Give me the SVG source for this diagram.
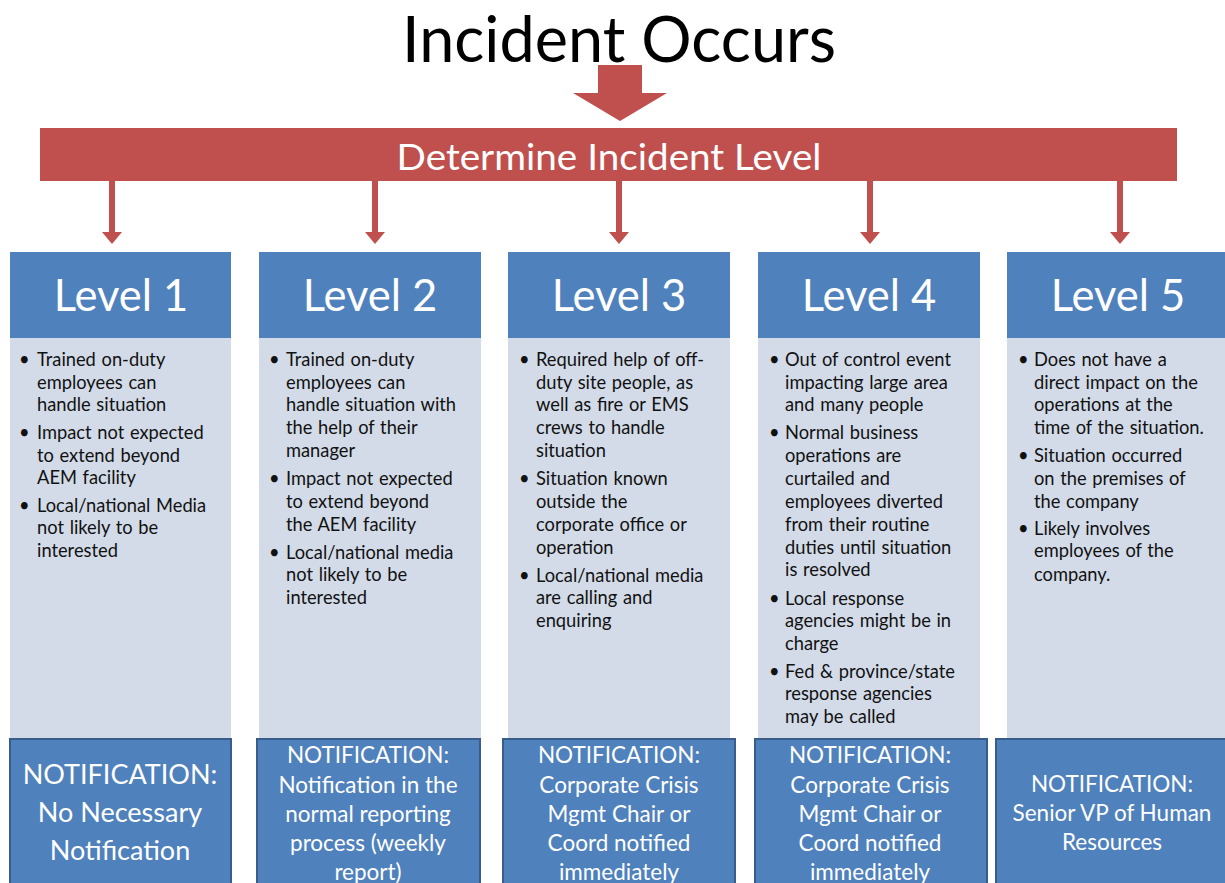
<svg xmlns="http://www.w3.org/2000/svg" width="1225" height="883" viewBox="0 0 1225 883">
<style>
.hdr{fill:#4F81BD}
.body{fill:#D3DBE8}
.note{fill:#4F81BD;stroke:#385D8A;stroke-width:2}
.arrow{fill:#C0504D}
.lvl{font-family:Lato,"Liberation Sans",sans-serif;font-size:43.5px;fill:#fff;text-anchor:middle}
.bt{font-family:Lato,"Liberation Sans",sans-serif;font-size:18.3px;fill:#111;word-spacing:1px}
.nt{font-family:Lato,"Liberation Sans",sans-serif;font-size:22.5px;fill:#fff;text-anchor:middle}
.nt1{font-family:Lato,"Liberation Sans",sans-serif;font-size:27px;fill:#fff;text-anchor:middle}
</style>
<rect width="1225" height="883" fill="#fff"/>
<g id="title">
<text x="619" y="62" font-family="Lato,'Liberation Sans',sans-serif" font-size="63" fill="#000" text-anchor="middle" textLength="434" lengthAdjust="spacingAndGlyphs">Incident Occurs</text>
</g>
<g id="determine">
<rect x="40" y="128" width="1137" height="53" class="arrow"/>
<text x="609" y="170" font-family="Lato,'Liberation Sans',sans-serif" font-size="37" fill="#fff" text-anchor="middle" textLength="425" lengthAdjust="spacingAndGlyphs">Determine Incident Level</text>
</g>
<g id="connectors">
<path class="arrow" d="M598 65 H642 V93 H667 L620 121 L573 93 H598 Z"/>
<path class="arrow" d="M109 181 H115 V232 H122 L112 244 L102 232 H109 Z"/>
<path class="arrow" d="M372 181 H378 V232 H385 L375 244 L365 232 H372 Z"/>
<path class="arrow" d="M616 181 H622 V232 H629 L619 244 L609 232 H616 Z"/>
<path class="arrow" d="M867 181 H873 V232 H880 L870 244 L860 232 H867 Z"/>
<path class="arrow" d="M1117 181 H1123 V232 H1130 L1120 244 L1110 232 H1117 Z"/>
</g>
<g id="level1">
<rect class="body" x="10" y="338" width="221" height="402"/>
<rect class="hdr" x="10" y="252" width="221" height="86"/>
<text class="lvl" x="121" y="311">Level 1</text>
<text class="bt"><tspan x="19" y="366">•</tspan><tspan x="19" y="439">•</tspan><tspan x="19" y="512">•</tspan></text>
<text class="bt"><tspan x="37" y="366">Trained on-duty</tspan><tspan x="37" y="389">employees can</tspan><tspan x="37" y="411">handle situation</tspan><tspan x="37" y="439">Impact not expected</tspan><tspan x="37" y="462">to extend beyond</tspan><tspan x="37" y="484">AEM facility</tspan><tspan x="37" y="512">Local/national Media</tspan><tspan x="37" y="534">not likely to be</tspan><tspan x="37" y="557">interested</tspan></text>
<rect class="note" x="10" y="739" width="221" height="150"/>
<text class="nt1"><tspan x="120" y="784">NOTIFICATION:</tspan><tspan x="120" y="822">No Necessary</tspan><tspan x="120" y="860">Notification</tspan></text>
</g>
<g id="level2">
<rect class="body" x="259" y="338" width="222" height="402"/>
<rect class="hdr" x="259" y="252" width="222" height="86"/>
<text class="lvl" x="370" y="311">Level 2</text>
<text class="bt"><tspan x="269" y="366">•</tspan><tspan x="269" y="485">•</tspan><tspan x="269" y="559">•</tspan></text>
<text class="bt"><tspan x="286" y="366">Trained on-duty</tspan><tspan x="286" y="389">employees can</tspan><tspan x="286" y="411">handle situation with</tspan><tspan x="286" y="434">the help of their</tspan><tspan x="286" y="457">manager</tspan><tspan x="286" y="485">Impact not expected</tspan><tspan x="286" y="508">to extend beyond</tspan><tspan x="286" y="531">the AEM facility</tspan><tspan x="286" y="559">Local/national media</tspan><tspan x="286" y="581">not likely to be</tspan><tspan x="286" y="604">interested</tspan></text>
<rect class="note" x="257" y="739" width="223" height="150"/>
<text class="nt"><tspan x="368" y="763">NOTIFICATION:</tspan><tspan x="368" y="793">Notification in the</tspan><tspan x="368" y="822">normal reporting</tspan><tspan x="368" y="851">process (weekly</tspan><tspan x="368" y="880">report)</tspan></text>
</g>
<g id="level3">
<rect class="body" x="508" y="338" width="222" height="402"/>
<rect class="hdr" x="508" y="252" width="222" height="86"/>
<text class="lvl" x="619" y="311">Level 3</text>
<text class="bt"><tspan x="519" y="366">•</tspan><tspan x="519" y="485">•</tspan><tspan x="519" y="582">•</tspan></text>
<text class="bt"><tspan x="536" y="366">Required help of off-</tspan><tspan x="536" y="389">duty site people, as</tspan><tspan x="536" y="411">well as fire or EMS</tspan><tspan x="536" y="434">crews to handle</tspan><tspan x="536" y="457">situation</tspan><tspan x="536" y="485">Situation known</tspan><tspan x="536" y="508">outside the</tspan><tspan x="536" y="531">corporate office or</tspan><tspan x="536" y="554">operation</tspan><tspan x="536" y="582">Local/national media</tspan><tspan x="536" y="604">are calling and</tspan><tspan x="536" y="627">enquiring</tspan></text>
<rect class="note" x="503" y="739" width="232" height="150"/>
<text class="nt"><tspan x="619" y="763">NOTIFICATION:</tspan><tspan x="619" y="793">Corporate Crisis</tspan><tspan x="619" y="822">Mgmt Chair or</tspan><tspan x="619" y="851">Coord notified</tspan><tspan x="619" y="880">immediately</tspan></text>
</g>
<g id="level4">
<rect class="body" x="758" y="338" width="222" height="400"/>
<rect class="hdr" x="758" y="252" width="222" height="86"/>
<text class="lvl" x="869" y="311">Level 4</text>
<text class="bt"><tspan x="769" y="366">•</tspan><tspan x="769" y="439">•</tspan><tspan x="769" y="605">•</tspan><tspan x="769" y="678">•</tspan></text>
<text class="bt"><tspan x="785" y="366">Out of control event</tspan><tspan x="785" y="389">impacting large area</tspan><tspan x="785" y="411">and many people</tspan><tspan x="785" y="439">Normal business</tspan><tspan x="785" y="462">operations are</tspan><tspan x="785" y="485">curtailed and</tspan><tspan x="785" y="508">employees diverted</tspan><tspan x="785" y="531">from their routine</tspan><tspan x="785" y="554">duties until situation</tspan><tspan x="785" y="576">is resolved</tspan><tspan x="785" y="605">Local response</tspan><tspan x="785" y="627">agencies might be in</tspan><tspan x="785" y="650">charge</tspan><tspan x="785" y="678">Fed &amp; province/state</tspan><tspan x="785" y="700">response agencies</tspan><tspan x="785" y="723">may be called</tspan></text>
<rect class="note" x="755" y="739" width="232" height="150"/>
<text class="nt"><tspan x="870" y="763">NOTIFICATION:</tspan><tspan x="870" y="793">Corporate Crisis</tspan><tspan x="870" y="822">Mgmt Chair or</tspan><tspan x="870" y="851">Coord notified</tspan><tspan x="870" y="880">immediately</tspan></text>
</g>
<g id="level5">
<rect class="body" x="1007" y="338" width="222" height="402"/>
<rect class="hdr" x="1007" y="252" width="222" height="86"/>
<text class="lvl" x="1118" y="311">Level 5</text>
<text class="bt"><tspan x="1018" y="366">•</tspan><tspan x="1018" y="462">•</tspan><tspan x="1018" y="535">•</tspan></text>
<text class="bt"><tspan x="1034" y="366">Does not have a</tspan><tspan x="1034" y="389">direct impact on the</tspan><tspan x="1034" y="411">operations at the</tspan><tspan x="1034" y="434">time of the situation.</tspan><tspan x="1034" y="462">Situation occurred</tspan><tspan x="1034" y="485">on the premises of</tspan><tspan x="1034" y="508">the company</tspan><tspan x="1034" y="535">Likely involves</tspan><tspan x="1034" y="557">employees of the</tspan><tspan x="1034" y="581">company.</tspan></text>
<rect class="note" x="996" y="739" width="234" height="150"/>
<text class="nt"><tspan x="1112" y="792">NOTIFICATION:</tspan><tspan x="1112" y="821">Senior VP of Human</tspan><tspan x="1112" y="850">Resources</tspan></text>
</g>
</svg>
